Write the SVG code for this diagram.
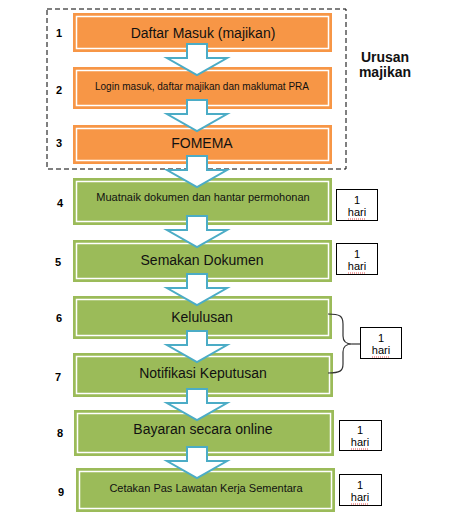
<svg xmlns="http://www.w3.org/2000/svg" width="454" height="528" viewBox="0 0 454 528">
<defs>
<style>
.o{fill:#f79646}
.g{fill:#9bbb59}
.in{fill:none;stroke:#fff;stroke-width:1.5}
.t{font-family:"Liberation Sans",Arial,sans-serif;fill:#111;text-anchor:middle}
.n{font-family:"Liberation Sans",Arial,sans-serif;font-weight:bold;font-size:11px;fill:#000;text-anchor:middle}
.hb{fill:#fff;stroke:#000;stroke-width:1}
.ht{font-family:"Liberation Sans",Arial,sans-serif;font-size:11px;fill:#000;text-anchor:middle}
.sq{fill:none;stroke:#e02020;stroke-width:0.8;stroke-dasharray:1 1}
.ar{fill:#fff;stroke:#4bacc6;stroke-width:2;stroke-linejoin:miter}
</style>
<path id="arr" d="M-10,0 H10 V14 H30 L0,31 L-30,14 H-10 Z"/>
</defs>
<rect x="47" y="9" width="299" height="160" fill="none" stroke="#000" stroke-width="1" stroke-dasharray="5 3"/>
<text class="t" x="385" y="62" font-size="14" font-weight="bold">Urusan</text>
<text class="t" x="385" y="77" font-size="14" font-weight="bold">majikan</text>

<g id="n1"><rect class="o" x="73" y="13" width="259" height="39"/><rect class="in" x="76.5" y="16.5" width="252" height="32"/><text class="t" x="203" y="38" font-size="14">Daftar Masuk (majikan)</text><text class="n" x="59" y="37">1</text></g>
<g id="n2"><rect class="o" x="73" y="67" width="259" height="42"/><rect class="in" x="76.5" y="70.5" width="252" height="35"/><text class="t" x="202" y="90" font-size="10">Login masuk, daftar majikan dan maklumat PRA</text><text class="n" x="59" y="94">2</text></g>
<g id="n3"><rect class="o" x="73" y="125" width="259" height="39"/><rect class="in" x="76.5" y="128.5" width="252" height="32"/><text class="t" x="202" y="148" font-size="14">FOMEMA</text><text class="n" x="59" y="147">3</text></g>
<g id="n4"><rect class="g" x="73" y="178" width="259" height="47"/><rect class="in" x="76.5" y="181.5" width="252" height="40"/><text class="t" x="203" y="201" font-size="11">Muatnaik dokumen dan hantar permohonan</text><text class="n" x="60" y="207">4</text></g>
<g id="n5"><rect class="g" x="73" y="240" width="259" height="42"/><rect class="in" x="76.5" y="243.5" width="252" height="35"/><text class="t" x="202" y="265" font-size="14">Semakan Dokumen</text><text class="n" x="58" y="266">5</text></g>
<g id="n6"><rect class="g" x="73" y="296" width="259" height="43"/><rect class="in" x="76.5" y="299.5" width="252" height="36"/><text class="t" x="202" y="322" font-size="14">Kelulusan</text><text class="n" x="59" y="322">6</text></g>
<g id="n7"><rect class="g" x="73" y="353" width="260" height="44"/><rect class="in" x="76.5" y="356.5" width="253" height="37"/><text class="t" x="203" y="378" font-size="14">Notifikasi Keputusan</text><text class="n" x="58" y="381">7</text></g>
<g id="n8"><rect class="g" x="74" y="410" width="260" height="46"/><rect class="in" x="77.5" y="413.5" width="253" height="39"/><text class="t" x="203" y="434" font-size="14">Bayaran secara online</text><text class="n" x="60" y="437">8</text></g>
<g id="n9"><rect class="g" x="76" y="468" width="259" height="44"/><rect class="in" x="79.5" y="471.5" width="252" height="37"/><text class="t" x="206" y="492" font-size="11">Cetakan Pas Lawatan Kerja Sementara</text><text class="n" x="61" y="496">9</text></g>

<g id="h4"><rect class="hb" x="336.5" y="189.5" width="41" height="31"/><text class="ht" x="357" y="204">1</text><text class="ht" x="357" y="216">hari</text><path class="sq" d="M348,219 H366"/></g>
<g id="h5"><rect class="hb" x="336.5" y="243.5" width="41" height="31"/><text class="ht" x="357" y="258">1</text><text class="ht" x="357" y="270">hari</text><path class="sq" d="M348,273 H366"/></g>
<g id="h67"><rect class="hb" x="360.5" y="327.5" width="41" height="31"/><text class="ht" x="381" y="342">1</text><text class="ht" x="381" y="354">hari</text><path class="sq" d="M372,357 H390"/></g>
<g id="h8"><rect class="hb" x="339.5" y="420.5" width="42" height="30"/><text class="ht" x="360" y="434">1</text><text class="ht" x="360" y="446">hari</text><path class="sq" d="M351,449 H369"/></g>
<g id="h9"><rect class="hb" x="339.5" y="474.5" width="42" height="31"/><text class="ht" x="360" y="489">1</text><text class="ht" x="360" y="501">hari</text><path class="sq" d="M351,504 H369"/></g>

<g id="connectors">
<use href="#arr" class="ar" transform="translate(197,44)"/>
<use href="#arr" class="ar" transform="translate(197,100)"/>
<use href="#arr" class="ar" transform="translate(197,156)"/>
<use href="#arr" class="ar" transform="translate(197,216)"/>
<use href="#arr" class="ar" transform="translate(197,274)"/>
<use href="#arr" class="ar" transform="translate(197,331)"/>
<use href="#arr" class="ar" transform="translate(197,389)"/>
<use href="#arr" class="ar" transform="translate(197,447)"/>
<path d="M328,314 C340,314 343,316 343,324 V336 C343,342 346,344 352,344 M352,344 C346,344 343,346 343,352 V364 C343,371 340,373 328,373" fill="none" stroke="#333" stroke-width="1.2"/>
<path d="M352,344 H360" fill="none" stroke="#333" stroke-width="1.2"/>
</g>
</svg>
